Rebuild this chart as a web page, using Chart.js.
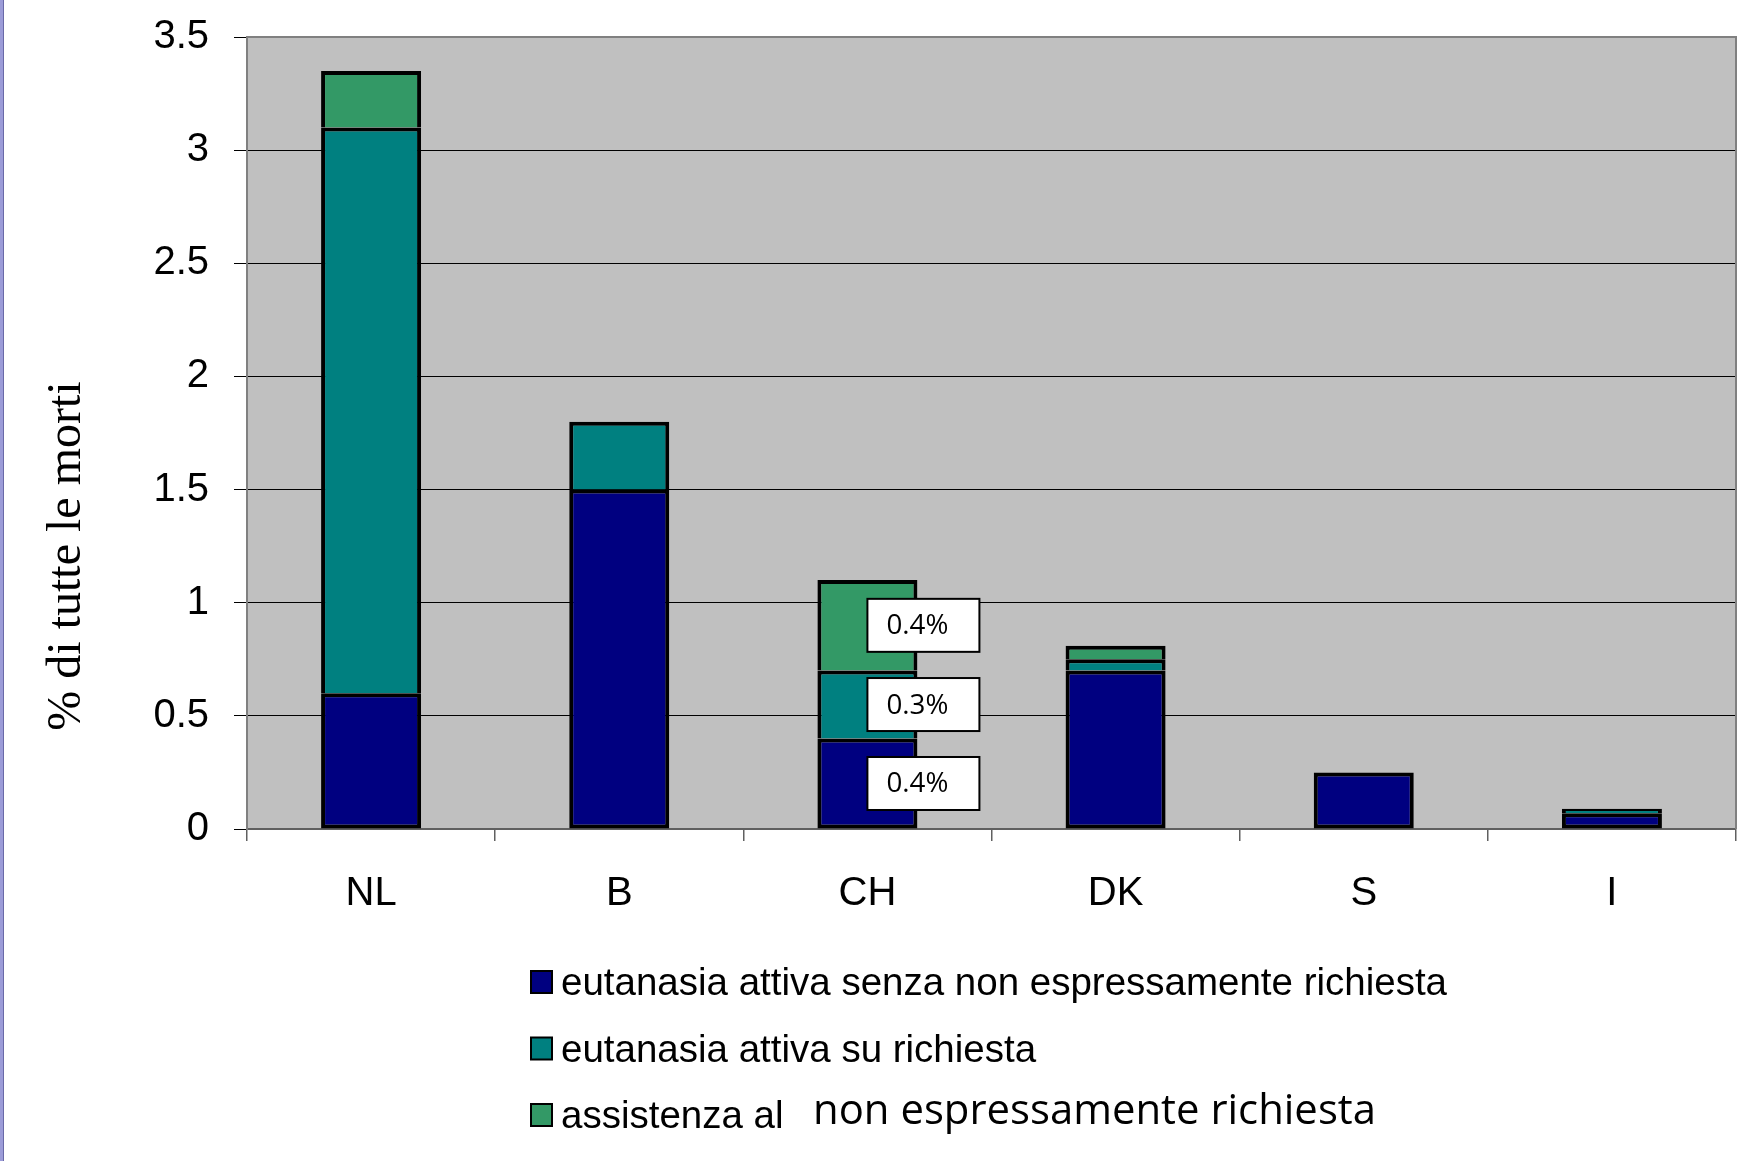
<!DOCTYPE html>
<html lang="it">
<head>
    <meta charset="UTF-8">
    <title>% di tutte le morti</title>
    <script src="https://cdn.jsdelivr.net/npm/chart.js@4.4.1/dist/chart.umd.min.js"></script>
    <style>
        body { margin: 0; background: #fff; }
        canvas { display: block; }
    </style>
</head>
<body>
    <canvas id="chart" width="1758" height="1161"></canvas>

    <script>
        // data
        const countries = ['NL', 'B', 'CH', 'DK', 'S', 'I'];
        const senzaRichiesta = [0.6, 1.5, 0.4, 0.7, 0.25, 0.07];
        const suRichiesta = [2.5, 0.3, 0.3, 0.05, 0, 0.02];
        const assistenza = [0.25, 0, 0.4, 0.06, 0, 0];
        const seriesNames = [
            'eutanasia attiva senza non espressamente richiesta',
            'eutanasia attiva su richiesta',
            'assistenza al'
        ];
        const overlayText = 'non espressamente richiesta';
        const chLabels = ['0.4%', '0.3%', '0.4%'];   // navy, teal, green on CH
        const yTitle = '% di tutte le morti';

        const colors = ['#000080', '#008080', '#339966'];
        const comic = '"Comic Sans MS", "Open Sans", sans-serif';

        // grey plot, frame, y title, stripe on the left
        const backdrop = {
            id: 'backdrop',
            beforeDraw(chart) {
                const ctx = chart.ctx, a = chart.chartArea;
                ctx.save();
                ctx.fillStyle = '#fff';
                ctx.fillRect(0, 0, chart.width, chart.height);
                ctx.fillStyle = '#c0c0c0';
                ctx.fillRect(a.left, a.top, a.right - a.left, a.bottom - a.top);
                ctx.fillStyle = '#9c9cd8';
                ctx.fillRect(0, 0, 3, chart.height);
                ctx.fillStyle = '#6a6aa8';
                ctx.fillRect(3, 0, 1, chart.height);
                ctx.restore();
            },
            beforeDatasetsDraw(chart) {
                const ctx = chart.ctx, a = chart.chartArea;
                ctx.save();
                ctx.strokeStyle = '#808080';
                ctx.lineWidth = 2;
                ctx.beginPath();
                ctx.moveTo(a.left, a.bottom);
                ctx.lineTo(a.left, a.top);
                ctx.lineTo(a.right, a.top);
                ctx.lineTo(a.right, a.bottom);
                ctx.stroke();
                // y title
                ctx.translate(80, 556);
                ctx.rotate(-Math.PI / 2);
                ctx.fillStyle = '#000';
                ctx.font = '48px "Liberation Serif", "Times New Roman", serif';
                ctx.textAlign = 'center';
                ctx.textBaseline = 'alphabetic';
                ctx.fillText(yTitle, 0, 0);
                ctx.restore();
            }
        };

        // white boxes on the CH bar
        const chBoxes = {
            id: 'chBoxes',
            afterDatasetsDraw(chart) {
                const ctx = chart.ctx;
                const idx = countries.indexOf('CH');
                ctx.save();
                chLabels.forEach((txt, i) => {
                    const bar = chart.getDatasetMeta(i).data[idx];
                    const cy = (bar.y + bar.base) / 2;
                    const w = 112, h = 53;
                    ctx.fillStyle = '#fff';
                    ctx.fillRect(bar.x, cy - h / 2, w, h);
                    ctx.strokeStyle = '#000';
                    ctx.lineWidth = 2;
                    ctx.strokeRect(bar.x, cy - h / 2, w, h);
                    ctx.fillStyle = '#000';
                    ctx.font = '28px ' + comic;
                    ctx.textAlign = 'left';
                    ctx.textBaseline = 'middle';
                    ctx.fillText(txt, bar.x + 19, cy + 1, 62);
                });
                ctx.restore();
            }
        };

        // legend, one item per row, plus the pasted note
        const rowsLegend = {
            id: 'rowsLegend',
            afterDraw(chart) {
                const ctx = chart.ctx;
                ctx.save();
                chart.data.datasets.forEach((ds, i) => {
                    const base = 995 + i * 66.5;
                    ctx.fillStyle = ds.backgroundColor;
                    ctx.fillRect(531, base - 24, 21, 22);
                    ctx.strokeStyle = '#000';
                    ctx.lineWidth = 2;
                    ctx.strokeRect(531, base - 24, 21, 22);
                    ctx.fillStyle = '#000';
                    ctx.font = '38.5px "Liberation Sans", Arial, sans-serif';
                    ctx.textBaseline = 'alphabetic';
                    ctx.fillText(ds.label, 561, base);
                });
                ctx.font = '42px ' + comic;
                ctx.fillText(overlayText, 813, 1124, 563);
                ctx.restore();
            }
        };

        const ctx = document.getElementById('chart').getContext('2d');
        new Chart(ctx, {
            type: 'bar',
            data: {
                labels: countries,
                datasets: [senzaRichiesta, suRichiesta, assistenza].map((vals, i) => ({
                    label: seriesNames[i],
                    data: vals,
                    backgroundColor: colors[i],
                    borderColor: '#000',
                    borderWidth: i === 0 ? 4 : { top: 4, left: 4, right: 4, bottom: 0 },
                    borderSkipped: false,
                    barPercentage: 0.403,
                    categoryPercentage: 1
                }))
            },
            options: {
                responsive: false,
                animation: false,
                layout: { padding: { left: 0, top: 37, right: 22, bottom: 242 } },
                plugins: {
                    legend: { display: false },
                    tooltip: { enabled: false }
                },
                scales: {
                    x: {
                        stacked: true,
                        afterFit: s => { s.height = 90; },
                        grid: {
                            offset: true,
                            drawOnChartArea: false,
                            tickLength: 12,
                            color: '#606060',
                            lineWidth: 1.5
                        },
                        border: { color: '#606060', width: 2 },
                        ticks: {
                            color: '#000',
                            padding: 29,
                            font: { family: '"Liberation Sans", Arial, sans-serif', size: 40 }
                        }
                    },
                    y: {
                        stacked: true,
                        min: 0,
                        max: 3.5,
                        afterFit: s => {
                            s.width = 247;
                            s.paddingTop = 0;
                            s.paddingBottom = 0;
                        },
                        grid: {
                            color: '#000',
                            lineWidth: 1,
                            tickLength: 13,
                            tickColor: '#000'
                        },
                        border: { color: '#808080', width: 2 },
                        ticks: {
                            stepSize: 0.5,
                            color: '#000',
                            padding: 25,
                            callback: v => String(v),
                            font: { family: '"Liberation Sans", Arial, sans-serif', size: 40 }
                        }
                    }
                }
            },
            plugins: [backdrop, chBoxes, rowsLegend]
        });
    </script>
</body>
</html>
